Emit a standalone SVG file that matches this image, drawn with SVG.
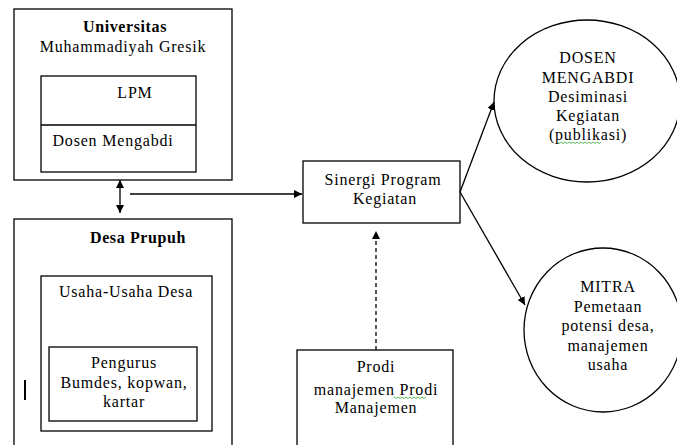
<svg xmlns="http://www.w3.org/2000/svg" width="677" height="445" viewBox="0 0 677 445">
<style>
.b{fill:#fff;stroke:#000;stroke-width:1.3}
.t{font-family:"Liberation Serif","Times New Roman",serif;font-size:16px;letter-spacing:0.8px;fill:#000;text-anchor:middle}
.bd{font-weight:bold;letter-spacing:0.6px}
.c{fill:none;stroke:#000;stroke-width:1.3}
.sq{fill:none;stroke:#3a3;stroke-width:0.8}
</style>
<defs>
<marker id="ah" viewBox="0 0 10 10" refX="10" refY="5" markerWidth="8" markerHeight="8" markerUnits="userSpaceOnUse" orient="auto-start-reverse">
<path d="M0,0 L10,5 L0,10 z" fill="#000"/>
</marker>
</defs>
<rect width="677" height="445" fill="#fff"/>
<g id="universitas">
<rect class="b" x="14" y="9" width="218" height="171"/>
<text class="t bd" x="125" y="32">Universitas</text>
<text class="t" x="123" y="52">Muhammadiyah Gresik</text>
</g>
<g id="lpm">
<rect class="b" x="41" y="76" width="155" height="96"/>
<line class="c" x1="41" y1="125" x2="196" y2="125"/>
<text class="t" x="135" y="98">LPM</text>
<text class="t" x="113" y="146">Dosen Mengabdi</text>
</g>
<g id="desa">
<rect class="b" x="14" y="219" width="218" height="240"/>
<text class="t bd" x="138" y="243">Desa Prupuh</text>
<rect x="24" y="380" width="2" height="20" fill="#000"/>
</g>
<g id="usaha">
<rect class="b" x="41" y="276" width="171" height="155"/>
<text class="t" x="126" y="297">Usaha-Usaha Desa</text>
</g>
<g id="pengurus">
<rect class="b" x="49" y="347" width="148" height="74"/>
<text class="t" x="124" y="368">Pengurus</text>
<text class="t" x="124" y="388">Bumdes, kopwan,</text>
<text class="t" x="124" y="407">kartar</text>
</g>
<g id="sinergi">
<rect class="b" x="303" y="161" width="157" height="62"/>
<text class="t" x="383" y="185">Sinergi Program</text>
<text class="t" x="385" y="204">Kegiatan</text>
</g>
<g id="prodi">
<rect class="b" x="297" y="350" width="156" height="110"/>
<text class="t" x="376" y="372">Prodi</text>
<text class="t" x="376" y="395">manajemen Prodi</text>
<text class="t" x="376" y="413">Manajemen</text>
<path class="sq" d="M394,397 l2,1.5 l2,-1.5 l2,1.5 l2,-1.5 l2,1.5 l2,-1.5 l2,1.5 l2,-1.5 l2,1.5 l2,-1.5 l2,1.5 l2,-1.5 l2,1.5 l2,-1.5 l2,1.5 l2,-1.5"/>
</g>
<g id="dosen-mengabdi">
<ellipse class="b" cx="587" cy="101" rx="93" ry="81"/>
<text class="t" x="588" y="63">DOSEN</text>
<text class="t" x="588" y="83">MENGABDI</text>
<text class="t" x="588" y="102">Desiminasi</text>
<text class="t" x="588" y="121">Kegiatan</text>
<text class="t" x="588" y="140">(publikasi)</text>
<path class="sq" d="M557,142 l2,1.5 l2,-1.5 l2,1.5 l2,-1.5 l2,1.5 l2,-1.5 l2,1.5 l2,-1.5 l2,1.5 l2,-1.5 l2,1.5 l2,-1.5 l2,1.5 l2,-1.5 l2,1.5 l2,-1.5 l2,1.5 l2,-1.5 l2,1.5 l2,-1.5 l2,1.5 l2,-1.5"/>
</g>
<g id="mitra">
<ellipse class="b" cx="603" cy="330" rx="79" ry="82"/>
<text class="t" x="608" y="292">MITRA</text>
<text class="t" x="608" y="312">Pemetaan</text>
<text class="t" x="608" y="331">potensi desa,</text>
<text class="t" x="608" y="351">manajemen</text>
<text class="t" x="608" y="370">usaha</text>
</g>
<g id="connectors">
<line class="c" x1="120" y1="180" x2="120" y2="213" marker-start="url(#ah)" marker-end="url(#ah)"/>
<line class="c" x1="130" y1="194" x2="302" y2="194" marker-end="url(#ah)"/>
<line class="c" x1="376" y1="350" x2="376" y2="231" stroke-dasharray="4,3" marker-end="url(#ah)"/>
<line class="c" x1="460" y1="192" x2="494" y2="102" marker-end="url(#ah)"/>
<line class="c" x1="460" y1="192" x2="525" y2="305" marker-end="url(#ah)"/>
</g>
</svg>
